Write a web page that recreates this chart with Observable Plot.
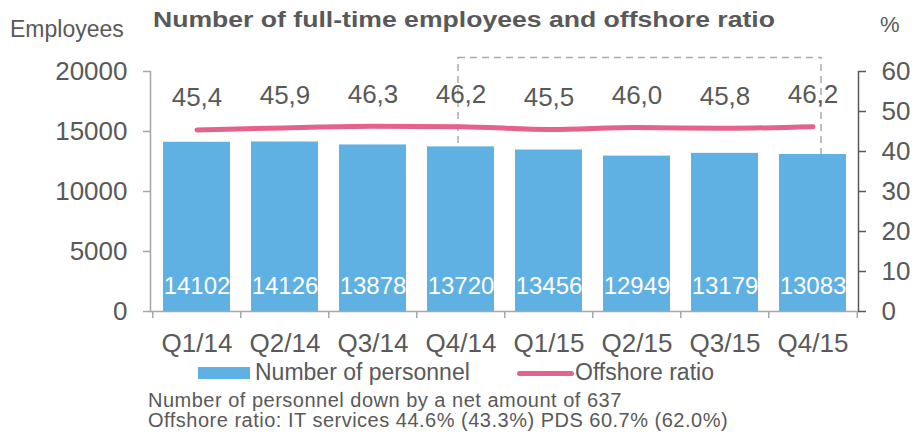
<!DOCTYPE html>
<html>
<head>
<meta charset="utf-8">
<script src="https://cdn.jsdelivr.net/npm/d3@7"></script>
<script src="https://cdn.jsdelivr.net/npm/@observablehq/plot@0.6"></script>
<style>
  html, body { margin: 0; padding: 0; background: #fff; }
  #wrap { position: relative; width: 912px; height: 436px; overflow: hidden;
          font-family: "Liberation Sans", Arial, sans-serif; color: #595959; }
  .t { position: absolute; line-height: 1; white-space: nowrap; }
  #chart { position: absolute; left: 0; top: 0; }
</style>
</head>
<body>
<div id="wrap">
  <div id="chart"></div>
  <div class="t" style="left:10px; top:17.5px; font-size:23px;">Employees</div>
  <div class="t" id="title" style="left:153px; top:10px; font-size:21.5px; font-weight:bold; transform-origin:0 0;">Number of full-time employees and offshore ratio</div>
  <div class="t" style="left:880px; top:14.4px; font-size:22px;">%</div>
  <div class="t" style="left:198px; top:367px; width:52px; height:12px; background:#5FB0E3;"></div>
  <div class="t" style="left:255px; top:360.5px; font-size:23px;">Number of personnel</div>
  <div class="t" style="left:517px; top:370.5px; width:57px; height:5px; border-radius:3px; background:#E5628A;"></div>
  <div class="t" style="left:575px; top:360.5px; font-size:23px;">Offshore ratio</div>
  <div class="t" style="left:148px; top:390px; font-size:20px; letter-spacing:0.5px;">Number of personnel down by a net amount of 637</div>
  <div class="t" style="left:148px; top:410px; font-size:20px; letter-spacing:0.5px;">Offshore ratio: IT services 44.6% (43.3%) PDS 60.7% (62.0%)</div>
</div>
<script>
const quarters = ["Q1/14", "Q2/14", "Q3/14", "Q4/14", "Q1/15", "Q2/15", "Q3/15", "Q4/15"];
const personnel = [14102, 14126, 13878, 13720, 13456, 12949, 13179, 13083];
const offshoreRatio = [45.4, 45.9, 46.3, 46.2, 45.5, 46.0, 45.8, 46.2];
const leftTicks = [0, 5000, 10000, 15000, 20000];
const rightTicks = [0, 10, 20, 30, 40, 50, 60];
const leftMax = 20000;
const rightMax = 60;
const highlightFrom = "Q4/14";
const highlightTo = "Q4/15";

const toLeft = v => v * leftMax / rightMax;
const data = quarters.map((q, i) => ({q, n: personnel[i], r: offshoreRatio[i]}));
const fmtComma = v => d3.format(".1f")(v).replace(".", ",");

const barColor = "#5FB0E3";
const lineColor = "#E5628A";
const textColor = "#595959";
const lightAxis = "#A6A6A6";
const boxTop = 21170;
const dash = {stroke: "#AAAAAA", strokeWidth: 1.5, strokeDasharray: "7,5"};

const plot = Plot.plot({
  width: 912,
  height: 436,
  marginLeft: 150,
  marginRight: 54,
  marginTop: 71,
  marginBottom: 125,
  style: {fontFamily: "'Liberation Sans', Arial, sans-serif", fontSize: "26px", color: textColor, background: "transparent", overflow: "visible"},
  x: {type: "band", domain: quarters, paddingInner: 0.242, paddingOuter: 0.121, axis: null},
  y: {domain: [0, leftMax], axis: null},
  marks: [
    // dashed highlight box
    Plot.ruleX([highlightFrom], {y1: 0, y2: boxTop, dx: -3, ...dash}),
    Plot.ruleX([highlightTo], {y1: 0, y2: boxTop, dx: 8, ...dash}),
    Plot.ruleY([boxTop], {y: d => d, x1: () => highlightFrom, x2: () => highlightTo, insetLeft: 31, insetRight: 25, ...dash}),
    // bars
    Plot.barY(data, {x: "q", y: "n", fill: barColor}),
    Plot.text(data, {x: "q", y: 0, text: d => String(d.n), fill: "white", fontSize: 24, dy: -25}),
    // offshore line
    Plot.line(data, {x: "q", y: d => toLeft(d.r), stroke: lineColor, strokeWidth: 5, curve: "monotone-x", strokeLinecap: "round"}),
    Plot.text(data, {x: "q", y: d => toLeft(d.r), text: d => fmtComma(d.r), fill: textColor, fontSize: 26, dy: -32}),
    // axes lines
    Plot.frame({anchor: "left", stroke: lightAxis, strokeWidth: 1.5}),
    Plot.frame({anchor: "right", stroke: textColor, strokeWidth: 1.5}),
    Plot.ruleY([0], {stroke: lightAxis, strokeWidth: 1.5}),
    // left axis
    Plot.axisY({anchor: "left", label: null, ticks: leftTicks, tickSize: 7, tickPadding: 16, stroke: lightAxis, strokeWidth: 1.5, fill: textColor, fontSize: 26, tickFormat: d => String(d)}),
    // right axis
    Plot.axisY({anchor: "right", label: null, ticks: rightTicks.map(toLeft), tickSize: 7, tickPadding: 16, stroke: textColor, strokeWidth: 1.5, fill: textColor, fontSize: 26, tickFormat: d => String(Math.round(d * rightMax / leftMax))}),
    // x axis: boundary ticks and labels
    Plot.axisX({anchor: "bottom", label: null, ticks: quarters, tickSize: 7, text: null, dx: -44.25, stroke: lightAxis, strokeWidth: 1.5}),
    Plot.axisX({anchor: "bottom", label: null, ticks: [highlightTo], tickSize: 7, text: null, dx: 44.25, stroke: lightAxis, strokeWidth: 1.5}),
    Plot.axisX({anchor: "bottom", label: null, ticks: quarters, tickSize: 0, tickPadding: 22, fill: textColor, fontSize: 26})
  ]
});
document.getElementById("chart").appendChild(plot);

// stretch title horizontally to match the reference width
const title = document.getElementById("title");
const w = title.getBoundingClientRect().width;
title.style.transform = `scaleX(${622 / w})`;
</script>
</body>
</html>
